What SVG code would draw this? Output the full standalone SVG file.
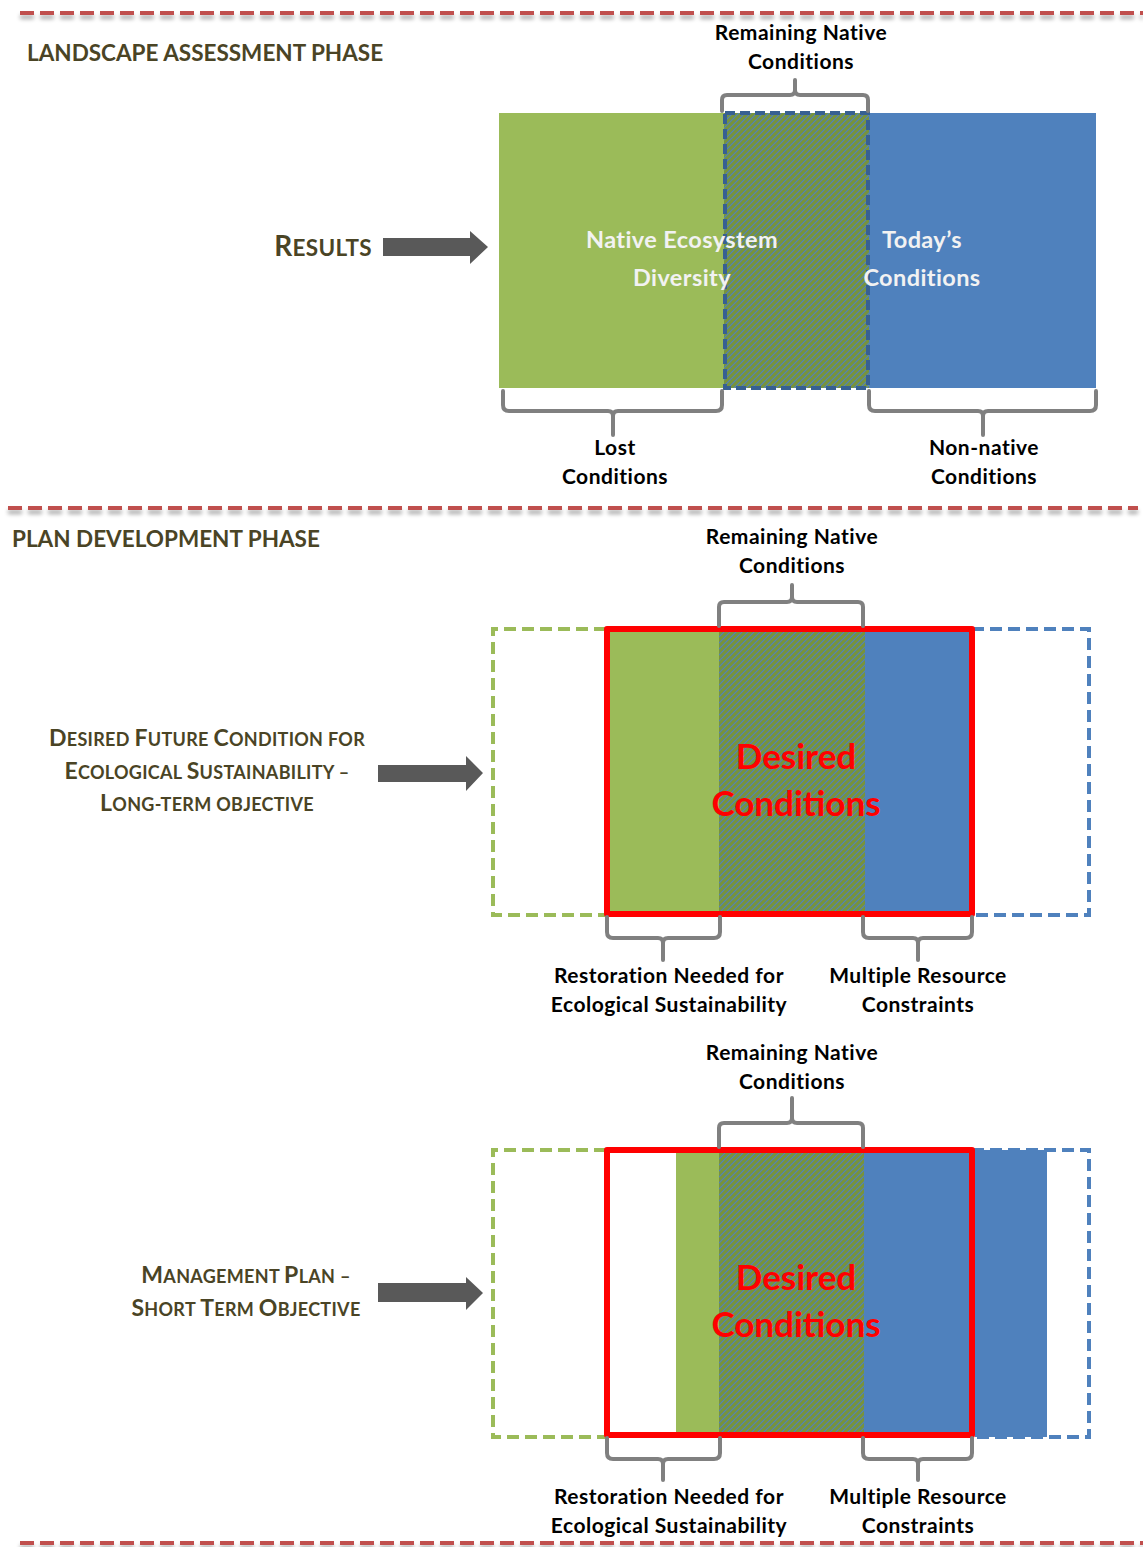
<svg xmlns="http://www.w3.org/2000/svg" width="1143" height="1547" viewBox="0 0 1143 1547">
  <defs>
    <pattern id="hatch" patternUnits="userSpaceOnUse" width="6" height="6">
      <rect width="6" height="6" fill="#77933C"/>
      <path d="M-1,1 L1,-1 M0,6 L6,0 M5,7 L7,5" stroke="#4F81BD" stroke-width="1.15"/>
    </pattern>
    <filter id="shadow" x="-5%" y="-200%" width="110%" height="500%">
      <feGaussianBlur in="SourceAlpha" stdDeviation="2"/>
      <feOffset dy="4" result="b"/>
      <feComponentTransfer><feFuncA type="linear" slope="0.35"/></feComponentTransfer>
      <feMerge><feMergeNode/><feMergeNode in="SourceGraphic"/></feMerge>
    </filter>
  </defs>
  <style>
    text { font-family: "Lato", "Liberation Sans", sans-serif; font-weight: bold; }
    .lbl { font-size: 21px; letter-spacing: 0.5px; fill: #000; text-anchor: middle; }
    .head { font-size: 22.5px; fill: #4A4425; }
    .sc { fill: #4A4425; text-anchor: middle; letter-spacing: 0.3px; }
    .inner { font-size: 23.5px; letter-spacing: 0.4px; fill: #F2F2F2; text-anchor: middle; }
    .desired { font-size: 35px; fill: #FF0000; text-anchor: middle; }
    .divider { stroke: #C0504D; stroke-width: 4; stroke-dasharray: 14 6; fill: none; }
    .brace { stroke: #808080; stroke-width: 4; fill: none; stroke-linecap: round; stroke-linejoin: round; }
    .arrow { fill: #595959; }
    .green { fill: #9BBB59; }
    .blue { fill: #4F81BD; }
    .hatched { fill: url(#hatch); }
    .gdash { stroke: #9BBB59; stroke-width: 4; stroke-dasharray: 12 6; fill: none; }
    .bdash { stroke: #4F81BD; stroke-width: 4; stroke-dasharray: 12 6; fill: none; }
    .redbox { stroke: #FF0000; stroke-width: 6; fill: none; stroke-linejoin: round; }
  </style>

  <!-- phase dividers -->
  <g id="dividers" filter="url(#shadow)">
    <line class="divider" x1="20" y1="13" x2="1143" y2="13"/>
    <line class="divider" x1="8" y1="508" x2="1138" y2="508"/>
    <line class="divider" x1="20" y1="1543" x2="1143" y2="1543"/>
  </g>

  <!-- ===== Landscape assessment phase ===== -->
  <text class="head" x="27" y="61">LANDSCAPE ASSESSMENT PHASE</text>

  <g id="results-label">
    <text class="sc" x="323" y="256"><tspan font-size="28">R</tspan><tspan font-size="22.5">ESULTS</tspan></text>
  </g>

  <g id="assessment-bars">
    <rect class="green" x="499" y="113" width="226" height="275"/>
    <rect class="blue" x="868" y="113" width="228" height="275"/>
    <rect class="hatched" x="724" y="113" width="145" height="275"/>
    <rect x="725" y="113" width="143" height="275" fill="none" stroke="#376092" stroke-width="4" stroke-dasharray="10 5"/>
    <text class="inner" x="682" y="248">Native Ecosystem</text>
    <text class="inner" x="682" y="286">Diversity</text>
    <text class="inner" x="922" y="248">Today’s</text>
    <text class="inner" x="922" y="286">Conditions</text>
  </g>

  <g id="assessment-labels">
    <text class="lbl" x="801" y="40">Remaining Native</text>
    <text class="lbl" x="801" y="69">Conditions</text>
    <text class="lbl" x="615" y="455">Lost</text>
    <text class="lbl" x="615" y="484">Conditions</text>
    <text class="lbl" x="984" y="455">Non-native</text>
    <text class="lbl" x="984" y="484">Conditions</text>
  </g>

  <!-- ===== Plan development phase: long-term objective ===== -->
  <text class="head" x="12" y="547">PLAN DEVELOPMENT PHASE</text>

  <g id="dfc-label">
    <text class="sc" x="207" y="746"><tspan font-size="23">D</tspan><tspan font-size="18">ESIRED </tspan><tspan font-size="23">F</tspan><tspan font-size="18">UTURE </tspan><tspan font-size="23">C</tspan><tspan font-size="18">ONDITION FOR</tspan></text>
    <text class="sc" x="207" y="779"><tspan font-size="23">E</tspan><tspan font-size="18">COLOGICAL </tspan><tspan font-size="23">S</tspan><tspan font-size="18">USTAINABILITY –</tspan></text>
    <text class="sc" x="207" y="811"><tspan font-size="23">L</tspan><tspan font-size="18">ONG-TERM OBJECTIVE</tspan></text>
  </g>

  <g id="long-term-bars">
    <path class="gdash" d="M606,629 H493 V915 H606"/>
    <path class="bdash" d="M972,629 H1089 V915 H972"/>
    <rect class="green" x="610" y="632" width="110" height="280"/>
    <rect class="hatched" x="719" y="632" width="146" height="280"/>
    <rect class="blue" x="865" y="632" width="105" height="280"/>
    <rect class="redbox" x="607" y="629" width="365" height="285"/>
    <text class="desired" x="796" y="769">Desired</text>
    <text class="desired" x="796" y="816">Conditions</text>
  </g>

  <g id="long-term-labels">
    <text class="lbl" x="792" y="544">Remaining Native</text>
    <text class="lbl" x="792" y="573">Conditions</text>
    <text class="lbl" x="669" y="983">Restoration Needed for</text>
    <text class="lbl" x="669" y="1012">Ecological Sustainability</text>
    <text class="lbl" x="918" y="983">Multiple Resource</text>
    <text class="lbl" x="918" y="1012">Constraints</text>
  </g>

  <!-- ===== Plan development phase: short-term objective ===== -->
  <g id="mp-label">
    <text class="sc" x="246" y="1283"><tspan font-size="23">M</tspan><tspan font-size="18">ANAGEMENT </tspan><tspan font-size="23">P</tspan><tspan font-size="18">LAN –</tspan></text>
    <text class="sc" x="246" y="1316"><tspan font-size="23">S</tspan><tspan font-size="18">HORT </tspan><tspan font-size="23">T</tspan><tspan font-size="18">ERM </tspan><tspan font-size="23">O</tspan><tspan font-size="18">BJECTIVE</tspan></text>
  </g>

  <g id="short-term-bars">
    <path class="gdash" d="M606,1150 H493 V1437 H606"/>
    <path class="bdash" d="M972,1150 H1089 V1437 H972"/>
    <rect class="green" x="676" y="1153" width="44" height="281"/>
    <rect class="hatched" x="719" y="1153" width="146" height="281"/>
    <rect class="blue" x="864" y="1153" width="106" height="281"/>
    <rect class="blue" x="975" y="1150" width="72" height="287"/>
    <rect class="redbox" x="607" y="1150" width="365" height="285"/>
    <text class="desired" x="796" y="1290">Desired</text>
    <text class="desired" x="796" y="1337">Conditions</text>
  </g>

  <g id="short-term-labels">
    <text class="lbl" x="792" y="1060">Remaining Native</text>
    <text class="lbl" x="792" y="1089">Conditions</text>
    <text class="lbl" x="669" y="1504">Restoration Needed for</text>
    <text class="lbl" x="669" y="1533">Ecological Sustainability</text>
    <text class="lbl" x="918" y="1504">Multiple Resource</text>
    <text class="lbl" x="918" y="1533">Constraints</text>
  </g>

  <!-- connectors: arrows and braces -->
  <g id="connectors">
    <polygon class="arrow" points="383,238 470,238 470,231 488,247 470,264 470,256 383,256"/>
    <polygon class="arrow" points="378,765 466,765 466,756 483,773 466,791 466,782 378,782"/>
    <polygon class="arrow" points="378,1283 466,1283 466,1277 483,1293 466,1310 466,1302 378,1302"/>

    <!-- braces, assessment -->
    <path class="brace" d="M722,111 V100 Q722,95 727,95 H790 Q795,95 795,90 V80 M868,111 V100 Q868,95 863,95 H800 Q795,95 795,90"/>
    <path class="brace" d="M503,391 V405 Q503,411 509,411 H608 Q613,411 613,416 V435 M722,391 V405 Q722,411 716,411 H618 Q613,411 613,416"/>
    <path class="brace" d="M869,391 V405 Q869,411 875,411 H978 Q983,411 983,416 V435 M1096,391 V405 Q1096,411 1090,411 H988 Q983,411 983,416"/>

    <!-- braces, long-term -->
    <path class="brace" d="M719,626 V607 Q719,602 724,602 H787 Q792,602 792,597 V585 M863,626 V607 Q863,602 858,602 H797 Q792,602 792,597"/>
    <path class="brace" d="M607,917 V932 Q607,938 613,938 H658 Q663,938 663,943 V960 M720,917 V932 Q720,938 714,938 H668 Q663,938 663,943"/>
    <path class="brace" d="M863,917 V932 Q863,938 869,938 H913 Q918,938 918,943 V960 M972,917 V932 Q972,938 966,938 H923 Q918,938 918,943"/>

    <!-- braces, short-term -->
    <path class="brace" d="M719,1147 V1128 Q719,1123 724,1123 H787 Q792,1123 792,1118 V1098 M863,1147 V1128 Q863,1123 858,1123 H797 Q792,1123 792,1118"/>
    <path class="brace" d="M607,1438 V1453 Q607,1459 613,1459 H658 Q663,1459 663,1464 V1480 M720,1438 V1453 Q720,1459 714,1459 H668 Q663,1459 663,1464"/>
    <path class="brace" d="M863,1438 V1453 Q863,1459 869,1459 H913 Q918,1459 918,1464 V1480 M972,1438 V1453 Q972,1459 966,1459 H923 Q918,1459 918,1464"/>
  </g>
</svg>
